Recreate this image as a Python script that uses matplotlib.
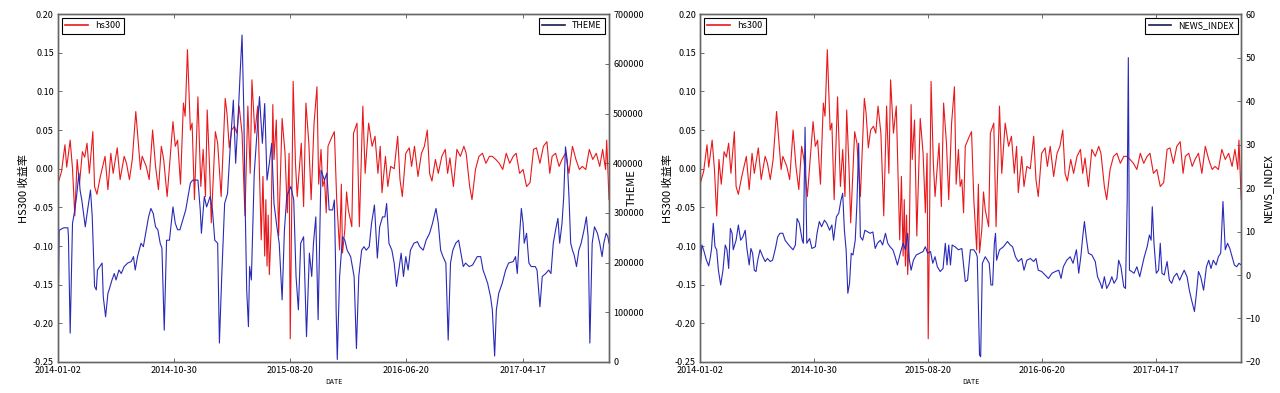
import matplotlib
matplotlib.use('Agg')
import matplotlib.pyplot as plt

plt.rcParams['font.family'] = ['Noto Sans CJK SC', 'DejaVu Sans']
plt.rcParams['xtick.direction'] = 'in'
plt.rcParams['ytick.direction'] = 'in'

# trading-day index -> label (every 200 rows)
tick_pos = [0, 200, 400, 600, 800]
tick_labels = ['2014-01-02', '2014-10-30', '2015-08-20', '2016-06-20', '2017-04-17']
n_days = 950

# hs300 return (day index, value)
hs_x = [0, 2, 6, 12, 15, 21, 25, 29, 33, 37, 42, 46, 50, 54, 60, 63, 67, 73, 81, 86,
        91, 95, 102, 107, 114, 118, 123, 128, 134, 142, 145, 152, 157, 163, 168, 173, 178, 182, 188, 198,
        202, 206, 211, 216, 219, 223, 228, 231, 235, 241, 246, 250, 254, 257, 261, 264, 271, 275, 281, 288,
        291, 295, 299, 304, 308, 312, 317, 322, 327, 331, 334, 339, 344, 348, 350, 353, 356, 358, 360, 362,
        364, 367, 370, 372, 376, 380, 386, 391, 395, 398, 400, 405, 409, 412, 419, 423, 427, 432, 436, 441,
        446, 449, 453, 456, 459, 462, 465, 471, 476, 480, 485, 488, 490, 494, 497, 500, 506, 509, 515, 519,
        525, 529, 535, 541, 546, 551, 555, 558, 564, 568, 573, 579, 585, 589, 593, 599, 605, 609, 614, 620,
        626, 631, 636, 640, 644, 650, 655, 661, 667, 671, 675, 681, 687, 693, 699, 703, 709, 713, 719, 725,
        731, 737, 743, 748, 754, 760, 766, 772, 778, 784, 789, 795, 801, 807, 813, 819, 824, 830, 836, 842,
        847, 851, 857, 863, 868, 874, 880, 886, 892, 898, 903, 909, 915, 921, 927, 933, 938, 943, 945, 949]
hs_y = [-0.02, -0.014, -0.004, 0.031, 0.002, 0.037, 0.0, -0.061, 0.012, -0.02, 0.022, 0.015, 0.033, -0.006, 0.048, -0.023, -0.033, -0.01, 0.016, -0.027,
        0.02, -0.006, 0.027, -0.014, 0.016, 0.007, -0.014, 0.012, 0.074, -0.001, 0.016, 0.003, -0.014, 0.05, 0.003, -0.027, 0.029, 0.012, -0.036, 0.061,
        0.029, 0.037, -0.02, 0.085, 0.068, 0.154, 0.05, 0.059, -0.04, 0.093, -0.023, 0.025, -0.036, 0.076, 0.003, -0.07, 0.048, 0.033, -0.036, 0.091,
        0.072, 0.027, 0.05, 0.055, 0.046, 0.081, 0.046, -0.061, 0.081, -0.006, 0.115, 0.046, 0.081, -0.036, -0.092, -0.01, -0.113, -0.04, -0.126, -0.06,
        -0.137, -0.08, 0.083, 0.012, 0.063, -0.087, 0.065, 0.02, -0.057, 0.02, -0.22, 0.113, 0.007, -0.036, 0.033, -0.049, 0.085, 0.033, -0.04, 0.059,
        0.106, -0.02, 0.025, -0.023, -0.014, -0.057, 0.029, 0.04, 0.048, -0.04, -0.105, -0.02, -0.109, -0.079, -0.03, -0.053, -0.075, 0.046, 0.059, -0.075,
        0.081, -0.006, 0.059, 0.029, 0.042, -0.006, 0.029, -0.031, 0.016, -0.023, 0.003, 0.0, 0.042, -0.014, -0.036, 0.02, 0.027, 0.003, 0.029, -0.01,
        0.02, 0.029, 0.05, -0.006, -0.016, 0.012, -0.006, 0.016, 0.025, -0.006, 0.014, -0.023, 0.025, 0.016, 0.029, 0.02, -0.023, -0.04, -0.001, 0.016,
        0.02, 0.007, 0.016, 0.016, 0.012, 0.007, -0.001, 0.02, 0.007, 0.016, 0.02, -0.006, -0.001, -0.023, -0.018, 0.025, 0.027, 0.007, 0.029, 0.035,
        -0.006, 0.016, 0.02, 0.003, 0.012, 0.02, -0.006, 0.029, 0.012, -0.001, 0.003, -0.001, 0.025, 0.012, 0.02, 0.003, 0.025, -0.001, 0.037, -0.04]

# THEME (left panel, right axis)
theme_x = [0, 2, 10, 17, 18, 21, 25, 28, 32, 36, 38, 41, 47, 51, 56, 59, 63, 66, 68, 72,
           76, 78, 82, 86, 88, 93, 97, 100, 105, 109, 114, 120, 126, 130, 133, 137, 143, 147, 152, 156,
           160, 164, 168, 172, 176, 179, 183, 187, 192, 198, 202, 206, 210, 215, 220, 224, 228, 232, 241, 245,
           247, 252, 256, 262, 266, 270, 275, 278, 282, 287, 292, 297, 302, 306, 310, 314, 317, 320, 322, 325,
           328, 330, 333, 338, 343, 347, 352, 356, 360, 364, 368, 372, 377, 381, 386, 390, 394, 401, 406, 410,
           414, 418, 423, 428, 433, 437, 440, 444, 448, 453, 459, 463, 467, 473, 476, 478, 479, 481, 485, 490,
           494, 498, 504, 510, 514, 518, 523, 527, 531, 536, 540, 545, 550, 554, 559, 563, 566, 570, 575, 579,
           583, 587, 591, 595, 599, 603, 607, 613, 619, 623, 629, 634, 640, 645, 651, 655, 659, 663, 668, 672,
           676, 680, 685, 690, 694, 698, 702, 708, 714, 722, 728, 732, 736, 740, 745, 748, 752, 755, 759, 765,
           771, 776, 784, 788, 791, 794, 798, 801, 803, 807, 811, 815, 822, 825, 830, 834, 840, 845, 849, 853,
           857, 861, 864, 868, 871, 874, 877, 880, 883, 886, 889, 893, 897, 901, 906, 910, 913, 916, 920, 924,
           929, 933, 937, 940, 944, 947, 949]
theme_y = [64000, 265000, 270000, 270000, 252000, 58000, 279000, 299000, 333000, 380000, 346000, 326000, 272000, 306000, 346000, 292000, 152000, 145000, 185000, 192000,
           199000, 131000, 91000, 138000, 145000, 165000, 178000, 165000, 185000, 178000, 192000, 199000, 202000, 212000, 185000, 212000, 239000, 232000, 266000, 292000,
           309000, 299000, 272000, 266000, 239000, 229000, 64000, 245000, 245000, 312000, 279000, 266000, 266000, 286000, 306000, 333000, 360000, 366000, 366000, 306000,
           259000, 333000, 312000, 333000, 306000, 245000, 239000, 38000, 172000, 319000, 339000, 440000, 527000, 400000, 487000, 588000, 658000, 507000, 339000, 145000,
           71000, 192000, 165000, 380000, 467000, 534000, 440000, 520000, 366000, 400000, 440000, 319000, 272000, 239000, 125000, 266000, 333000, 353000, 326000, 172000,
           105000, 239000, 252000, 51000, 219000, 172000, 239000, 292000, 85000, 386000, 366000, 380000, 306000, 306000, 326000, 200000, 105000, 5000, 172000, 252000,
           245000, 225000, 212000, 172000, 27000, 172000, 225000, 232000, 225000, 232000, 279000, 316000, 209000, 272000, 292000, 292000, 319000, 239000, 225000, 199000,
           152000, 185000, 219000, 172000, 212000, 185000, 225000, 239000, 242000, 232000, 225000, 245000, 259000, 279000, 309000, 279000, 225000, 212000, 199000, 44000,
           199000, 225000, 239000, 245000, 219000, 192000, 199000, 192000, 195000, 212000, 212000, 185000, 172000, 158000, 131000, 105000, 12000, 105000, 138000, 158000,
           185000, 199000, 202000, 212000, 178000, 239000, 309000, 279000, 239000, 259000, 199000, 192000, 192000, 185000, 111000, 172000, 178000, 185000, 178000, 239000,
           266000, 289000, 239000, 279000, 333000, 433000, 406000, 333000, 239000, 225000, 215000, 192000, 225000, 239000, 266000, 292000, 252000, 38000, 239000, 272000,
           259000, 239000, 212000, 239000, 259000, 252000, 239000]

# NEWS_INDEX (right panel, right axis)
news_x = [0, 3, 6, 11, 15, 18, 20, 23, 26, 29, 32, 36, 40, 44, 47, 50, 53, 56, 58, 63,
          67, 71, 75, 79, 82, 86, 89, 92, 95, 98, 101, 105, 110, 114, 118, 123, 127, 132, 136, 140,
          145, 149, 153, 158, 163, 167, 170, 174, 179, 181, 184, 187, 192, 196, 202, 205, 209, 213, 218, 222,
          227, 231, 234, 239, 243, 247, 250, 253, 256, 259, 262, 265, 268, 272, 275, 278, 281, 285, 289, 294,
          298, 303, 307, 311, 316, 320, 325, 329, 333, 338, 342, 346, 351, 356, 360, 364, 367, 370, 374, 379,
          385, 391, 395, 399, 404, 408, 412, 416, 421, 426, 430, 433, 436, 439, 442, 447, 453, 459, 465, 469,
          474, 480, 484, 486, 490, 492, 495, 500, 504, 507, 510, 513, 516, 518, 520, 525, 532, 539, 544, 548,
          553, 558, 564, 568, 573, 579, 585, 589, 593, 599, 605, 611, 617, 623, 629, 633, 637, 643, 649, 654,
          660, 664, 668, 671, 674, 677, 681, 687, 693, 697, 702, 705, 709, 713, 718, 722, 726, 731, 734, 738,
          743, 746, 749, 751, 753, 757, 761, 766, 771, 775, 779, 784, 788, 791, 793, 796, 800, 804, 807, 810,
          814, 819, 823, 827, 831, 836, 841, 845, 849, 854, 858, 862, 867, 871, 874, 878, 883, 888, 892, 896,
          900, 905, 909, 913, 917, 921, 925, 929, 933, 937, 941, 945, 949]
news_y = [1.1, 6.9, 5.8, 3.4, 2.1, 4.2, 6.1, 11.9, 6.5, 5.8, 1.1, -2.3, 1.1, 6.9, 5.8, 1.5, 10.7, 9.6, 5.8, 8.0,
          11.5, 8.0, 8.8, 10.3, 6.1, 2.3, 6.1, 5.0, 1.1, 0.8, 3.4, 5.8, 4.2, 3.1, 3.8, 3.1, 3.4, 6.1, 8.8, 9.6,
          9.6, 8.0, 7.3, 6.5, 5.8, 6.9, 13.0, 11.9, 8.0, 7.3, 34.0, 7.3, 8.4, 6.1, 6.5, 9.6, 12.3, 11.1, 12.6, 11.9,
          10.3, 11.5, 8.0, 13.4, 14.2, 17.2, 18.8, 10.3, 5.8, -4.2, -1.9, 5.0, 4.6, 8.0, 16.5, 30.3, 8.8, 8.0, 10.3, 9.9,
          9.6, 9.9, 6.1, 7.3, 8.0, 6.9, 9.6, 7.3, 6.5, 5.8, 4.2, 2.3, 5.0, 7.3, 5.8, 9.6, 3.4, 1.1, 3.4, 4.6,
          5.0, 5.4, 6.5, 5.0, 5.4, 2.7, 4.2, 1.9, 0.8, 1.5, 7.3, 2.3, 6.9, 2.3, 6.9, 6.5, 5.8, 6.1, -1.5, -1.2,
          5.8, 5.8, 5.0, 4.2, -18.4, -18.8, 2.7, 4.2, 3.4, 2.7, -2.3, -2.3, 7.3, 9.6, 3.4, 5.8, 6.5, 7.7, 6.9, 6.5,
          4.2, 3.1, 3.8, 1.1, 3.4, 3.8, 3.1, 3.8, 1.1, 0.8, 0.0, -0.8, 0.4, 0.8, 1.1, -0.8, 1.9, 3.4, 4.2, 2.7,
          5.8, 0.4, 4.6, 8.8, 12.3, 8.8, 5.0, 4.6, 3.1, -0.4, -1.9, -3.1, -0.4, -3.1, -1.9, -0.4, -1.9, -0.8, 3.4, 1.9,
          -2.7, -3.1, 17.0, 50.0, 1.1, 0.8, 0.4, 1.9, -0.4, 1.9, 4.2, 6.5, 9.2, 8.0, 15.7, 7.3, 0.4, 1.1, 7.3, 0.4,
          0.0, 3.1, -1.2, -1.9, -0.4, 0.4, -1.2, 0.0, 1.1, -0.4, -3.5, -5.8, -8.4, -3.5, 0.8, -0.4, -3.5, 1.9, 3.4, 1.5,
          3.4, 2.3, 4.2, 5.0, 16.9, 5.8, 7.3, 6.1, 4.2, 2.3, 1.9, 2.7, 2.3]

left_ticks = [-0.25, -0.20, -0.15, -0.10, -0.05, 0.0, 0.05, 0.10, 0.15, 0.20]

panels = [
    dict(rect=[0.0453, 0.079, 0.4305, 0.885], name='THEME', x=theme_x, y=theme_y,
         lim=(0, 700000), ticks=[0, 100000, 200000, 300000, 400000, 500000, 600000, 700000],
         lab_x=1.032, hs_lab_x=-0.053),
    dict(rect=[0.547, 0.079, 0.4227, 0.885], name='NEWS_INDEX', x=news_x, y=news_y,
         lim=(-20, 60), ticks=[-20, -10, 0, 10, 20, 30, 40, 50, 60],
         lab_x=1.04, hs_lab_x=-0.05),
]

fig = plt.figure(figsize=(12.8, 3.93), dpi=100)
fig.patch.set_facecolor('white')

for p in panels:
    ax = fig.add_axes(p['rect'])
    ax.plot(hs_x, hs_y, color='#e8191c', lw=0.8, label='hs300')
    ax.set_xlim(0, n_days - 1)
    ax.set_ylim(-0.25, 0.20)
    ax.set_yticks(left_ticks)
    ax.set_yticklabels(['%.2f' % v for v in left_ticks])
    ax.set_xticks(tick_pos)
    ax.set_xticklabels(tick_labels)
    ax.tick_params(axis='both', labelsize=6.5, length=3, width=0.6, top=True, right=False,
                   color='#555555', pad=3)
    ax.set_ylabel('HS300 收益率', fontsize=8)
    ax.yaxis.set_label_coords(p['hs_lab_x'], 0.5)
    ax.set_xlabel('DATE', fontsize=5, labelpad=2)
    leg = ax.legend(loc='upper left', fontsize=6.5, fancybox=False, handlelength=2.5,
                    borderaxespad=0.4, framealpha=1)
    leg.get_frame().set_edgecolor('black')
    leg.get_frame().set_linewidth(0.8)
    for h in leg.get_lines():
        h.set_linewidth(1.2)

    ax2 = ax.twinx()
    ax2.plot(p['x'], p['y'], color='#2a2ab8', lw=0.8, label=p['name'])
    ax2.set_ylim(*p['lim'])
    ax2.set_yticks(p['ticks'])
    ax2.set_xlim(0, n_days - 1)
    ax2.tick_params(axis='y', labelsize=6.5, length=3, width=0.6, color='#555555', pad=3)
    ax2.set_ylabel(p['name'], fontsize=8)
    ax2.yaxis.set_label_coords(p['lab_x'], 0.5)
    leg2 = ax2.legend(loc='upper right', fontsize=6.5, fancybox=False, handlelength=2.5,
                      borderaxespad=0.4, framealpha=1)
    leg2.get_frame().set_edgecolor('black')
    leg2.get_frame().set_linewidth(0.8)
    for h in leg2.get_lines():
        h.set_linewidth(1.2)
        h.set_color('#1a1a50')
    for a in (ax, ax2):
        for s in a.spines.values():
            s.set_color('#666666')
            s.set_linewidth(1.0)

fig.savefig('out.png', dpi=100)
